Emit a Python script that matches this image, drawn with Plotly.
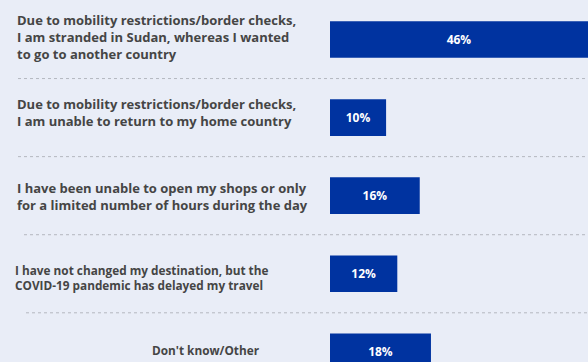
import plotly.graph_objects as go

# Survey responses: effect of COVID-19 on travel plans
categories = [
    "Due to mobility restrictions/border checks,<br>I am stranded in Sudan, whereas I wanted<br>to go to another country",
    "Due to mobility restrictions/border checks,<br>I am unable to return to my home country",
    "I have been unable to open my shops or only<br>for a limited number of hours during the day",
    "I have not changed my destination, but the<br>COVID-19 pandemic has delayed my travel",
    "Don't know/Other",
]
values = [46, 10, 16, 12, 18]
value_labels = ["46%", "10%", "16%", "12%", "18%"]

BG = "#e9edf7"
BAR = "#0033a0"
TEXT = "#454545"
FONT = "Open Sans"

positions = list(range(len(categories)))

fig = go.Figure(
    go.Bar(
        x=values,
        y=positions,
        orientation="h",
        width=0.47,
        marker=dict(color=BAR, line=dict(width=0)),
        text=value_labels,
        textposition="inside",
        insidetextanchor="middle",
        textangle=0,
        textfont=dict(family=FONT, size=12, color="white", weight="bold"),
        hoverinfo="skip",
    )
)

# Category labels on the left
label_x = [15, 15, 15, 13, 262]
label_anchor = ["left", "left", "left", "left", "right"]
label_shift = [3, 5, -1, -4, 2]
label_size = [13, 13, 13, 11.8, 11.8]
for pos, text, lx, anc, ys, fs in zip(positions, categories, label_x, label_anchor,
                                     label_shift, label_size):
    fig.add_annotation(
        x=lx / 588, xref="paper", y=pos, yref="y",
        text=text, showarrow=False,
        xanchor=anc, yanchor="middle", align="left", yshift=ys,
        font=dict(family=FONT, size=fs, color=TEXT, weight="bold"),
    )

# Dotted separators between rows
sep_start = [18, 18, 24, 26]
for i, xs in enumerate(sep_start):
    fig.add_shape(
        type="line", xref="paper", yref="y",
        x0=xs / 588, x1=1, y0=i + 0.5, y1=i + 0.5,
        line=dict(color="#b4b7bf", width=1, dash="dot"),
    )

fig.update_layout(
    width=588, height=362,
    margin=dict(l=0, r=0, t=0, b=0),
    paper_bgcolor=BG, plot_bgcolor=BG,
    showlegend=False,
    xaxis=dict(domain=[330 / 588, 1], range=[0, 46], visible=False, fixedrange=True),
    yaxis=dict(range=[4.13, -0.506], visible=False, fixedrange=True),
)

fig.write_html("out.html")
